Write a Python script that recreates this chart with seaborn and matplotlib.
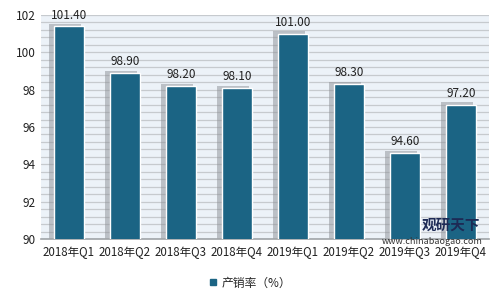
import matplotlib
matplotlib.use("Agg")
import matplotlib.pyplot as plt
import seaborn as sns
import pandas as pd
import numpy as np
from matplotlib.lines import Line2D

categories = ["2018年Q1", "2018年Q2", "2018年Q3", "2018年Q4", "2019年Q1", "2019年Q2", "2019年Q3", "2019年Q4"]
values = [101.40, 98.90, 98.20, 98.10, 101.00, 98.30, 94.60, 97.20]
series_name = "产销率（%）"
yticks = [90, 92, 94, 96, 98, 100, 102]

sns.set_theme(style="white")
plt.rcParams['font.family'] = ['Noto Sans CJK SC', 'DejaVu Sans']

df = pd.DataFrame({"cat": categories, "val": values})
fig = plt.figure(figsize=(5.01, 2.94), dpi=100)
ax = fig.add_axes([41/501, 1 - 239/294, 448/501, 224/294])
ax.set_facecolor("#ecf2f8")

bar_color = "#1b6484"
bw = 0.55
x = np.arange(len(categories))
# shadow bars
ax.bar(x - 0.07, np.array(values) - 90 + 0.12, bottom=90, width=bw + 0.02,
       color="#8c9096", alpha=0.5, zorder=2, linewidth=0)
sns.barplot(data=df, x="cat", y="val", color=bar_color, width=bw, ax=ax,
            edgecolor="white", linewidth=1.0, zorder=3, saturation=1)
for gl in np.arange(90, 102.01, 0.4):
    ax.axhline(gl, color="#c6cace", lw=0.9, zorder=1)

ax.set_ylim(90, 102)
ax.set_xlim(-0.5, len(categories) - 0.5)
ax.set_yticks(yticks)
ax.set_yticklabels([str(t) for t in yticks], fontsize=8.5, color="#222222")
ax.set_xticks(x)
ax.set_xticklabels(categories, fontsize=8.3, color="#222222")
ax.tick_params(axis="both", length=0, pad=4)
ax.tick_params(axis="x", pad=5)
ax.set_xlabel("")
ax.set_ylabel("")
for s in ["top", "right", "left"]:
    ax.spines[s].set_visible(False)
ax.spines["bottom"].set_color("#a0a4a8")
ax.spines["bottom"].set_linewidth(1.2)

for i, v in enumerate(values):
    ax.text(i, v + 0.25, f"{v:.2f}", ha="center", va="bottom", fontsize=8.5, color="#222222", zorder=5)

handle = Line2D([], [], marker="s", color=bar_color, linestyle="none", markersize=5)
fig.legend([handle], [series_name], loc="center", bbox_to_anchor=(250/501, 1 - 283/294),
           frameon=False, fontsize=8.5, handletextpad=0.3, handlelength=0.8)

# watermark
fig.text(480/501, 1 - 225/294, "观研天下", ha="right", va="center", fontsize=10.5,
         fontweight="bold", color="#1d2a55", zorder=10)
fig.text(483/501, 1 - 241/294, "www.chinabaogao.com", ha="right", va="center", fontsize=6.5,
         color="#333333", zorder=10)

fig.savefig("out.png", dpi=100)
